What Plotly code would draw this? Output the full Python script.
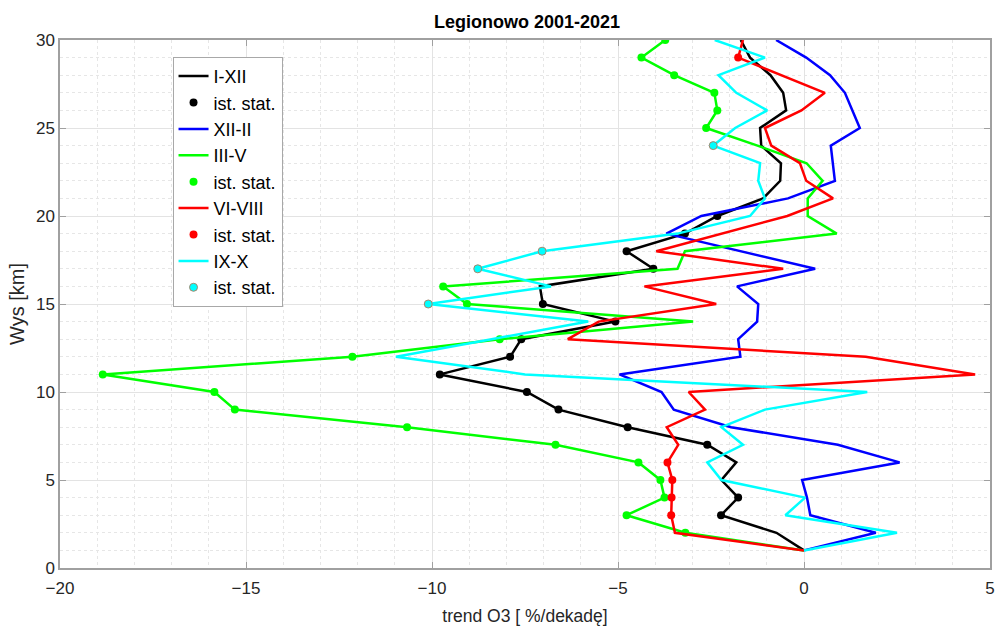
import plotly.graph_objects as go

# Altitude levels [km]
altitude_km = list(range(1, 31))

# Ozone trend [%/decade] per altitude level, 2001-2021
trend_I_XII = [0.0, -0.74, -2.23, -1.77, -2.22, -1.82, -2.6, -4.74, -6.6, -7.45,
               -9.79, -7.9, -7.6, -5.07, -7.02, -7.1, -4.05, -4.77, -3.2, -2.33,
               -1.1, -0.64, -0.62, -1.15, -1.18, -0.48, -0.56, -0.9, -1.45, -1.7]
trend_XII_II = [0.0, 1.93, 0.17, 0.08, -0.05, 2.57, 0.91, -1.96, -3.5, -3.83,
                -4.96, -1.71, -1.77, -1.26, -1.23, -1.8, 0.3, -1.7, -3.7, -2.76,
                -0.43, 0.83, 0.78, 0.72, 1.5, 1.3, 1.1, 0.7, 0.06, -0.75]
trend_III_V = [0.0, -3.19, -4.77, -3.75, -3.86, -4.45, -6.68, -10.67, -15.3, -15.85,
               -18.85, -12.14, -8.18, -2.98, -9.06, -9.7, -3.4, -3.2, 0.88, 0.1,
               0.1, 0.5, 0.07, -1.25, -2.63, -2.33, -2.41, -3.49, -4.37, -3.73]
trend_VI_VIII = [0.0, -3.47, -3.57, -3.56, -3.54, -3.67, -3.38, -3.69, -2.66, -3.1,
                 4.6, 1.66, -6.35, -5.52, -2.36, -4.29, -0.56, -3.97, -2.2, -0.45,
                 0.78, 0.06, -0.11, -0.88, -1.05, -0.07, 0.56, -0.6, -1.77, -1.64]
trend_IX_X = [0.0, 2.5, -0.5, 0.03, -2.22, -2.6, -1.64, -2.22, -1.05, 1.7,
              -7.5, -10.97, -8.4, -5.8, -10.1, -6.8, -8.77, -7.04, -3.4, -1.45,
              -1.05, -1.23, -1.18, -2.44, -1.85, -0.99, -1.82, -2.3, -1.05, -2.4]

# Altitudes [km] where the trend is statistically significant
sig_I_XII = [3, 4, 7, 8, 9, 10, 11, 12, 13, 14, 15, 17, 18, 19, 20]
sig_III_V = [2, 3, 4, 5, 6, 7, 8, 9, 10, 11, 12, 13, 15, 16, 25, 26, 27, 28, 29, 30]
sig_VI_VIII = [3, 4, 5, 6, 29]
sig_IX_X = [15, 17, 18, 24]

season_names = ["I-XII", "XII-II", "III-V", "VI-VIII", "IX-X"]
sig_label = "ist. stat."

FONT = "Liberation Sans, Arial, sans-serif"
TEXT_GRAY = "#262626"

series = [
    (season_names[0], trend_I_XII, sig_I_XII, "#000000", None),
    (season_names[1], trend_XII_II, None, "#0000ff", None),
    (season_names[2], trend_III_V, sig_III_V, "#00ff00", None),
    (season_names[3], trend_VI_VIII, sig_VI_VIII, "#ff0000", None),
    (season_names[4], trend_IX_X, sig_IX_X, "#00ffff", "#a8856a"),
]

fig = go.Figure()
for i, (name, values, sig, color, edge) in enumerate(series):
    fig.add_trace(go.Scatter(
        x=values, y=altitude_km, mode="lines", name=name,
        line=dict(color=color, width=2.5),
        legendgroup=f"g{i}a",
    ))
    if sig:
        fig.add_trace(go.Scatter(
            x=[values[altitude_km.index(a)] for a in sig], y=sig,
            mode="markers", name=sig_label,
            marker=dict(color=color, size=8,
                        line=dict(color=edge or color, width=1 if edge else 0)),
            legendgroup=f"g{i}b",
        ))

axis_common = dict(
    showline=True, linecolor="#a0a0a0", linewidth=1.5, mirror="ticks",
    ticks="inside", ticklen=6, tickcolor="#a0a0a0",
    showgrid=True, gridcolor="#e3e3e3", gridwidth=1,
    zeroline=False,
    tickfont=dict(family=FONT, size=17, color=TEXT_GRAY),
    minor=dict(dtick=1, showgrid=True, gridcolor="#e6e6e6", griddash="dot", ticks=""),
)

fig.update_xaxes(range=[-20, 5], dtick=5, ticklabelstandoff=4, **axis_common,
                 title=dict(text="trend O3 [ %/dekadę]", standoff=13,
                            font=dict(family=FONT, size=17.5, color=TEXT_GRAY)))
fig.update_yaxes(range=[0, 30], dtick=5, **axis_common,
                 title=dict(text="Wys [km]", standoff=6,
                            font=dict(family=FONT, size=20, color=TEXT_GRAY)))

fig.update_layout(
    width=1000, height=628,
    margin=dict(l=60, r=5, t=40, b=59),
    paper_bgcolor="white", plot_bgcolor="white",
    title=dict(text="<b>Legionowo 2001-2021</b>", x=0.527, xanchor="center",
               y=1 - 22 / 628, yanchor="middle", yref="container",
               font=dict(family=FONT, size=18, color="#000000")),
    legend=dict(x=0.121, y=0.968, xanchor="left", yanchor="top",
                bgcolor="white", bordercolor="#a8a8a8", borderwidth=1,
                traceorder="grouped", tracegroupgap=0,
                font=dict(family=FONT, size=18, color="#000000")),
    showlegend=True,
)

fig.write_html("out.html")
